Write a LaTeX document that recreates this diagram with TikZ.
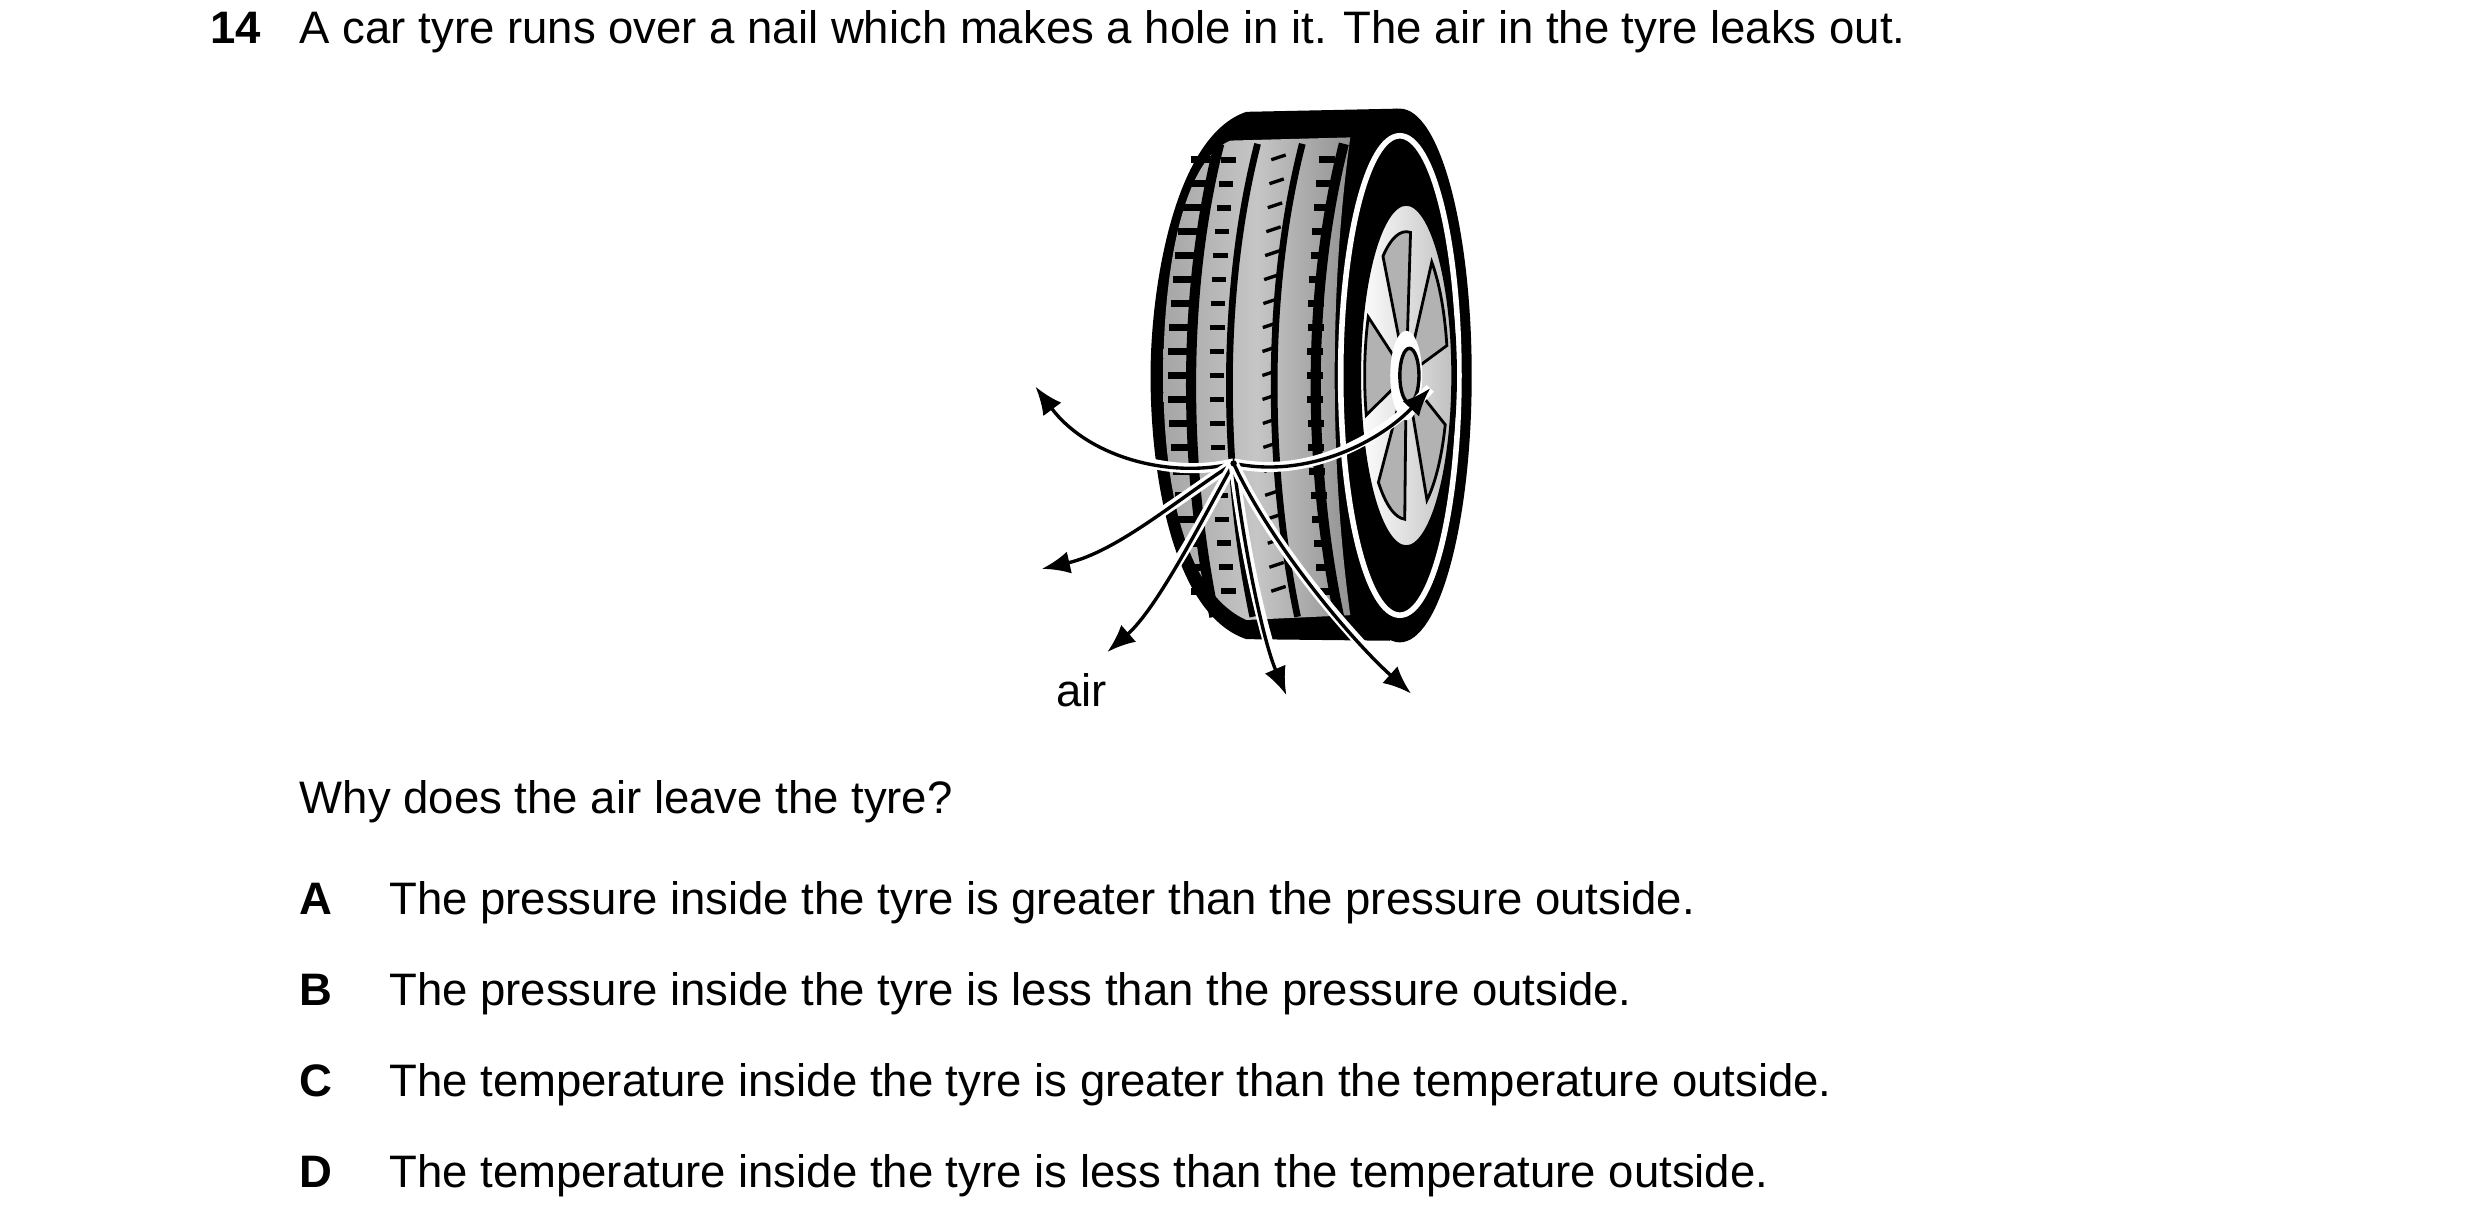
\documentclass[tikz,border=0pt]{standalone}
\usepackage{fontspec}
\setmainfont{Liberation Sans}
\usetikzlibrary{arrows.meta}

\begin{document}
\begin{tikzpicture}[x=0.01cm,y=-0.01cm,
    txt/.style={anchor=base west,inner sep=0pt,font=\fontsize{8.1}{9.5}\selectfont},
    lbl/.style={txt,font=\fontsize{8.1}{9.5}\selectfont\bfseries},
    airflow/.style={-{Latex[length=5pt,width=4pt]},line width=0.6pt,
        preaction={draw=white,line width=1.8pt,-}}]
            \useasboundingbox (0,0) rectangle (1552,768);

            % Question text
            \node[lbl] (num) at (131,27) {14};
            \node[txt] (q) at (187,27) {A car tyre runs over a nail which makes a hole in it. The air in the tyre leaks out.};
            \node[txt] (why) at (187,509) {Why does the air leave the tyre?};
            \node[lbl] (la) at (187,572) {A};
            \node[txt] (ta) at (243,572) {The pressure inside the tyre is greater than the pressure outside.};
            \node[lbl] (lb) at (187,629) {B};
            \node[txt] (tb) at (243,629) {The pressure inside the tyre is less than the pressure outside.};
            \node[lbl] (lc) at (187,686) {C};
            \node[txt] (tc) at (243,686) {The temperature inside the tyre is greater than the temperature outside.};
            \node[lbl] (ld) at (187,743) {D};
            \node[txt] (td) at (243,743) {The temperature inside the tyre is less than the temperature outside.};

            % The tyre body
            \fill[black] (875,68) -- (780,70) .. controls (735,85) and (720,180) .. (720,235)
                .. controls (720,300) and (735,385) .. (780,400) -- (870,401) -- cycle;
            \fill[black] (876,235) ellipse (45 and 167);
            \draw[white,line width=1pt] (876,235) ellipse (37 and 150);
            \fill[black] (876,235) ellipse (34 and 145);

            % Tread face
            \shade[left color=gray!70,right color=gray!85,middle color=gray!45]
                (770,88) -- (845,86) .. controls (832,180) and (832,290) .. (845,385)
                -- (780,388) .. controls (740,370) and (728,300) .. (728,235)
                .. controls (728,170) and (740,100) .. (770,88) -- cycle;
            \foreach \gx/\gw in {748/1.8, 772/1.2, 800/1.2, 826/1.8}
                \draw[black,line width=\gw pt] ({\gx+15},90) .. controls ({\gx-8},180) and ({\gx-8},290) .. ({\gx+12},386);
            \foreach \sy in {100,115,...,380} {
                \draw[black,line width=1.2pt] ({731+0.0008*(\sy-235)*(\sy-235)},\sy) -- +(13,0);
                \draw[black,line width=1.2pt] ({818+0.0004*(\sy-235)*(\sy-235)},\sy) -- +(10,0);
                \draw[black,line width=1pt] ({757+0.0004*(\sy-235)*(\sy-235)},\sy) -- +(9,0);
                \draw[black,line width=0.6pt] ({790+0.0003*(\sy-235)*(\sy-235)},\sy) -- +(9,-3);
            }

            % Wheel
            \shade[left color=white,right color=gray!50] (880,235) ellipse (30 and 108);
            \draw[black,line width=1pt] (880,235) ellipse (30 and 108);
            \foreach \a in {20,92,164,236,308}
                \fill[gray!60,draw=black,line width=0.5pt] (880,235) -- ++(\a:26 and 90) arc (\a:\a+40:26 and 90) -- cycle;
            \fill[white] (880,235) ellipse (10 and 28);
            \fill[gray!60,draw=black,line width=0.6pt] (882,235) ellipse (6 and 17);

            % Escaping air
            \coordinate (hole) at (772,290);
            \coordinate (upleft) at (648,242);
            \coordinate (right) at (895,243);
            \coordinate (left) at (652,356);
            \coordinate (downleft) at (693,408);
            \coordinate (down) at (805,435);
            \coordinate (downright) at (883,434);
            \draw[airflow] (hole) .. controls (730,300) and (680,285) .. (upleft);
            \draw[airflow] (hole) .. controls (820,300) and (865,275) .. (right);
            \draw[airflow] (hole) .. controls (740,310) and (700,345) .. (left);
            \draw[airflow] (hole) .. controls (755,320) and (725,380) .. (downleft);
            \draw[airflow] (hole) .. controls (778,340) and (790,400) .. (down);
            \draw[airflow] (hole) .. controls (795,340) and (845,400) .. (downright);
            \fill[black] (hole) circle (2);
            \node[txt,anchor=center] (air) at (677,432) {air};
        \end{tikzpicture}
\end{document}
